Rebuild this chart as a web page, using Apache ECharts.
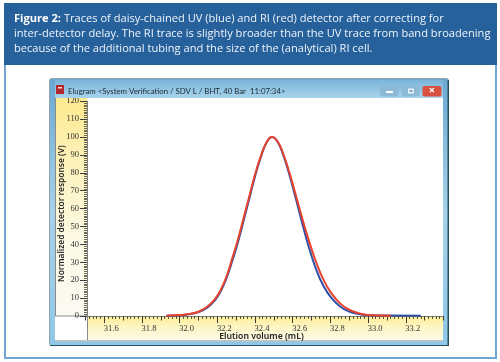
<!DOCTYPE html>
<html>
<head>
<meta charset="utf-8">
<style>html,body{margin:0;padding:0;background:#fff}#c{width:500px;height:362px;filter:blur(0.3px)}</style>
<script src="https://cdn.jsdelivr.net/npm/echarts@6/dist/echarts.min.js"></script>
</head>
<body>
<div id="c"></div>
<script>
const captionLines = [
  ["Figure 2:", " Traces of daisy-chained UV (blue) and RI (red) detector after correcting for"],
  ["", "inter-detector delay. The RI trace is slightly broader than the UV trace from band broadening"],
  ["", "because of the additional tubing and the size of the (analytical) RI cell."]
];
const windowTitle = "Elugram <System Verification / SDV L / BHT, 40 Bar  11:07:34>";
const xName = "Elution volume (mL)";
const yName = "Normalized detector response (V)";
const labelledVolumes = [31.6,31.8,32.0,32.2,32.4,32.6,32.8,33.0,33.2];
const riVolume = [31.93,32.00,32.05,32.10,32.15,32.19,32.22,32.25,32.28,32.31,32.34,32.37,32.40,32.43,32.46,32.49,32.52,32.55,32.58,32.61,32.64,32.67,32.70,32.73,32.76,32.80,32.85,32.90,32.95,33.00,33.12];
const riSignal = [0.2,0.5,1.1,2.4,5.4,9.8,15,22.5,32.5,43,55,67,79,89,96.8,100,97.5,90.5,81,70,58.5,47.5,37.5,28.5,21,13.5,7.2,3.5,1.6,0.6,0.2];
const uvVolume = [31.93,32.00,32.05,32.10,32.15,32.19,32.22,32.25,32.28,32.31,32.34,32.37,32.40,32.43,32.46,32.49,32.52,32.55,32.58,32.61,32.64,32.67,32.70,32.73,32.76,32.80,32.85,32.90,32.95,33.00,33.10,33.28];
const uvSignal = [0.2,0.4,1.0,2.2,4.9,9.2,14.2,21.5,31,41.5,53.5,65.8,78,88.5,96.6,100,97.2,89.8,79.8,68.2,56,44.2,33.5,24.5,17.5,10.8,5.4,2.5,1.1,0.45,0.25,0.2];

const zip = (a, b) => a.map((v, i) => [v, b[i]]);
const rect = (x, y, width, height, fill, extra) => Object.assign({
  type: 'rect', shape: {x, y, width, height, r: (extra && extra.r) || 0}, style: {fill}, z: -5, silent: true
}, extra && extra.top ? {z: 50} : {});
const vgrad = (stops) => ({type: 'linear', x: 0, y: 0, x2: 0, y2: 1,
  colorStops: stops.map((c, i) => ({offset: i / (stops.length - 1), color: c}))});

const chart = echarts.init(document.getElementById('c'));
const chrome = [
  rect(4, 3, 493, 356, '#6fa6d3'),
  rect(6, 5, 489, 352, '#ffffff'),
  rect(4, 3, 493, 62, '#26619c'),
  rect(49, 78, 400, 268, '#93a3ad', {r: 3}),
  rect(50, 79, 398, 266, vgrad(['#6aa8d2', '#a6d2ea', '#8fc7e6'])),
  rect(50, 345, 398, 1, '#234f5e'),
  rect(447.5, 80, 1.5, 266, '#27505f'),
  rect(55, 98, 388, 242, '#ffffff'),
  rect(55, 340, 388, 1.5, '#c4c4c4'),
  rect(55, 98, 32, 218, vgrad(['#fde98f', '#fdf3c0', '#fcf9e6', '#fbfaf2'])),
  rect(55, 98, 1, 218, '#8a8a8a'),
  rect(87, 316, 356, 24, vgrad(['#fdee98', '#fdf6c6', '#fbf9e4'])),
  rect(87, 316, 1, 24, '#8a8a8a'),
  rect(55, 315.5, 32, 1, '#8a8a8a'),
  rect(55, 80, 388, 18, vgrad(['#7ab4da', '#a8d4ec']), {top: true}),
  rect(56, 85, 8, 9, '#b3282d', {top: true}),
  rect(58, 87, 4, 1.5, '#f3d3c4', {top: true}),
  rect(380, 86, 18.5, 10.5, '#8cb9d6', {r: 2, top: true}),
  rect(386, 91, 7, 2, '#ffffff', {top: true}),
  rect(401.5, 86, 18, 10.5, '#8cb9d6', {r: 2, top: true}),
  rect(408, 88.5, 6, 5, '#e6f1f8', {top: true}),
  rect(409.5, 90, 3, 2, '#7fa9c6', {top: true}),
  rect(422.5, 86, 19, 10.5, '#d8503f', {r: 2, top: true}),
  {type: 'text', z: 51, silent: true, style: {x: 432, y: 91, text: '×', fill: '#fff',
    font: 'bold 11px "Noto Sans"', textAlign: 'center', textVerticalAlign: 'middle'}},
  {type: 'text', z: 51, silent: true, style: {x: 68, y: 91, text: windowTitle, fill: '#1d2a33',
    font: '7.8px Lato', textVerticalAlign: 'middle'}}
];

chart.setOption({
  animation: false,
  title: {
    left: 14, top: 11, padding: 0, itemGap: 0,
    text: captionLines.map(l => (l[0] ? '{b|' + l[0] + '}' : '') + '{n|' + l[1] + '}').join('\n'),
    textStyle: {
      lineHeight: 15,
      rich: {
        b: {fontFamily: 'Open Sans', fontSize: 11.1, fontWeight: 'bold', color: '#fff', lineHeight: 15},
        n: {fontFamily: 'Open Sans', fontSize: 11.1, fontWeight: 'normal', color: '#eef4fa', lineHeight: 15}
      }
    }
  },
  graphic: chrome,
  grid: {left: 85.4, right: 56.5, top: 101.2, bottom: 46, containLabel: false},
  xAxis: [{
    type: 'value', min: 31.5, max: 33.4, interval: 0.1,
    name: xName, nameLocation: 'middle', nameGap: 16, nameMoveOverlap: false,
    nameTextStyle: {fontFamily: 'Noto Sans', fontSize: 8.7, color: '#222', fontWeight: 600, padding: [0, 6, 0, 0]},
    axisLine: {show: true, lineStyle: {color: '#7d7d7d', width: 1}},
    axisTick: {show: true, inside: false, length: 4.5, lineStyle: {color: '#3d3d2e', width: 1}},
    minorTick: {show: true, splitNumber: 5, length: 3, lineStyle: {color: '#55553f', width: 1}},
    splitLine: {show: false}, minorSplitLine: {show: false},
    axisLabel: {
      margin: 8, padding: [0, 0, 0, 14], fontFamily: 'Liberation Serif', fontSize: 8.5, color: '#333',
      showMinLabel: false, showMaxLabel: false,
      formatter: v => (labelledVolumes.some(t => Math.abs(t - v) < 1e-6) ? v.toFixed(1) : '')
    }
  }, {
    type: 'value', min: 31.5, max: 33.4, interval: 0.1, position: 'bottom',
    axisLine: {show: false}, axisLabel: {show: false}, splitLine: {show: false},
    axisTick: {show: true, length: 7, customValues: labelledVolumes, lineStyle: {color: '#3d3d2e', width: 1}}
  }],
  yAxis: {
    type: 'value', min: 0, max: 120, interval: 10, offset: -1.6,
    name: yName, nameLocation: 'middle', nameGap: 21, nameMoveOverlap: false,
    nameTextStyle: {fontFamily: 'Noto Sans', fontSize: 8.4, color: '#222', fontWeight: 600, padding: [0, 10, 0, 0]},
    axisLine: {show: true, lineStyle: {color: '#7d7d7d', width: 1}},
    axisTick: {show: true, length: 7, lineStyle: {color: '#3d3d3d', width: 1}},
    minorTick: {show: true, splitNumber: 10, length: 3, lineStyle: {color: '#6a6a55', width: 1}},
    splitLine: {show: false}, minorSplitLine: {show: false},
    axisLabel: {margin: 8, padding: [0, 0, 5, 0], fontFamily: 'Liberation Serif', fontSize: 8.5, color: '#333'}
  },
  series: [
    {name: 'UV', type: 'line', data: zip(uvVolume, uvSignal), smooth: 0.5, showSymbol: false, clip: false,
      lineStyle: {color: '#2f4fa6', width: 2}},
    {name: 'RI', type: 'line', data: zip(riVolume, riSignal), smooth: 0.5, showSymbol: false, clip: false,
      lineStyle: {color: '#e8432e', width: 2}}
  ]
});
</script>
</body>
</html>
